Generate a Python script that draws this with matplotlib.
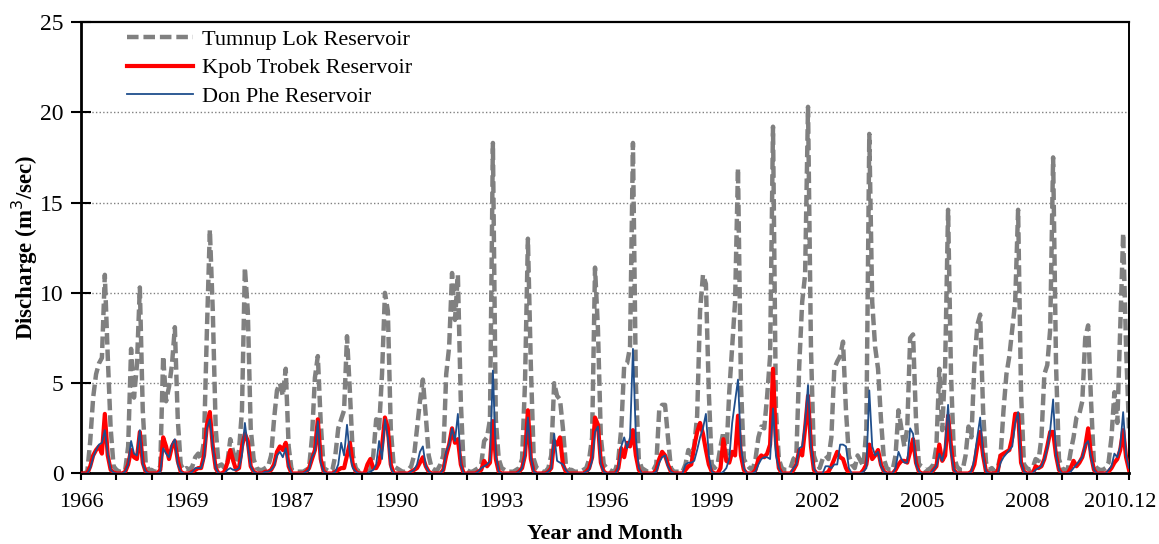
import matplotlib
matplotlib.use("Agg")
import matplotlib.pyplot as plt
from matplotlib.transforms import ScaledTranslation
import numpy as np

plt.rcParams['font.family'] = ['Liberation Serif', 'DejaVu Serif']

# monthly discharge (m3/sec), one row per year: 1966-1971, 1987-2010
tumnup_lok = [
    0.0, 0.0, 0.1, 1.8, 4.2, 5.5, 6.1, 6.4, 11.0, 6.5, 2.5, 0.4,     # 1966
    0.2, 0.1, 0.1, 0.2, 1.5, 6.9, 4.2, 6.0, 10.3, 3.5, 0.6, 0.2,     # 1967
    0.2, 0.1, 0.1, 0.4, 6.5, 4.0, 4.8, 6.0, 8.1, 3.0, 0.5, 0.2,      # 1968
    0.3, 0.2, 0.4, 0.9, 1.1, 0.8, 1.8, 8.0, 13.5, 9.0, 2.5, 0.4,     # 1969
    0.5, 0.3, 0.6, 1.9, 1.2, 0.6, 1.3, 3.5, 11.4, 9.0, 2.5, 0.8,     # 1970
    0.3, 0.2, 0.2, 0.3, 0.4, 1.0, 3.0, 4.6, 5.0, 4.3, 5.8, 1.5,      # 1971
    0.2, 0.1, 0.1, 0.1, 0.1, 0.2, 0.3, 2.0, 5.3, 6.5, 2.8, 0.3,      # 1987
    0.2, 0.1, 0.2, 1.0, 2.5, 3.0, 3.5, 7.6, 4.5, 1.0, 0.3, 0.1,      # 1988
    0.2, 0.1, 0.1, 0.2, 1.0, 3.0, 2.5, 5.5, 10.0, 9.0, 2.5, 0.4,     # 1989
    0.3, 0.2, 0.1, 0.1, 0.2, 0.4, 1.0, 2.5, 4.0, 5.2, 3.2, 1.0,      # 1990
    0.3, 0.2, 0.2, 0.5, 1.0, 5.5, 7.0, 11.1, 8.5, 11.0, 4.0, 0.3,    # 1991
    0.2, 0.1, 0.1, 0.2, 0.3, 0.5, 1.8, 2.0, 3.0, 18.3, 3.0, 0.8,     # 1992
    0.3, 0.2, 0.1, 0.1, 0.1, 0.2, 0.3, 0.8, 5.0, 13.0, 6.0, 0.8,     # 1993
    0.3, 0.2, 0.1, 0.1, 0.3, 1.0, 5.0, 4.3, 4.1, 2.5, 0.5, 0.2,      # 1994
    0.2, 0.1, 0.1, 0.1, 0.2, 0.3, 0.8, 2.0, 11.4, 8.0, 2.0, 0.5,     # 1995
    0.3, 0.2, 0.1, 0.2, 0.8, 2.5, 6.0, 6.1, 7.0, 18.3, 5.0, 0.8,     # 1996
    0.3, 0.2, 0.1, 0.1, 0.2, 0.5, 3.5, 3.8, 3.8, 2.0, 0.3, 0.1,      # 1997
    0.1, 0.1, 0.1, 0.5, 1.3, 1.0, 1.5, 3.2, 9.0, 11.0, 10.5, 4.5,    # 1998
    0.5, 0.3, 0.5, 1.5, 2.3, 1.0, 4.5, 7.0, 9.5, 16.9, 5.0, 0.8,     # 1999
    0.5, 0.3, 0.2, 0.8, 2.0, 2.6, 2.5, 4.3, 6.5, 19.2, 3.5, 0.8,     # 2000
    0.3, 0.2, 0.2, 0.3, 0.8, 1.0, 6.0, 9.5, 11.0, 20.3, 7.0, 1.0,    # 2001
    0.5, 0.3, 0.8, 1.0, 0.8, 2.0, 5.8, 6.2, 6.5, 7.3, 3.5, 1.0,      # 2002
    0.5, 0.3, 1.0, 0.7, 0.4, 2.5, 18.8, 9.5, 7.0, 5.8, 3.0, 0.8,     # 2003
    0.3, 0.2, 0.2, 1.0, 3.5, 2.5, 1.5, 2.5, 7.5, 7.7, 3.0, 0.5,      # 2004
    0.4, 0.2, 0.2, 0.3, 0.5, 1.5, 5.8, 2.4, 6.0, 14.6, 5.5, 1.0,     # 2005
    0.4, 0.2, 0.2, 1.0, 2.6, 2.0, 6.0, 8.2, 8.8, 3.5, 0.6, 0.2,      # 2006
    0.3, 0.1, 0.3, 1.0, 3.5, 5.5, 6.5, 8.0, 9.5, 14.6, 4.5, 0.5,     # 2007
    0.3, 0.2, 0.3, 0.8, 0.7, 2.0, 5.5, 6.0, 8.0, 17.5, 6.0, 0.8,     # 2008
    0.3, 0.2, 0.2, 1.2, 2.0, 3.1, 3.3, 4.0, 7.5, 8.2, 4.0, 0.5,      # 2009
    0.3, 0.2, 0.2, 0.3, 0.6, 2.0, 4.5, 2.8, 8.0, 13.3, 7.0, 2.5,     # 2010
]

kpob_trobek = [
    0.0, 0.0, 0.0, 0.4, 1.0, 1.3, 1.5, 1.1, 3.3, 1.0, 0.2, 0.05,
    0.0, 0.0, 0.0, 0.1, 0.5, 1.3, 0.9, 0.8, 2.3, 0.6, 0.1, 0.0,
    0.0, 0.0, 0.0, 0.2, 2.0, 1.5, 0.8, 1.5, 1.8, 0.7, 0.1, 0.0,
    0.0, 0.0, 0.1, 0.2, 0.3, 0.3, 1.0, 2.7, 3.4, 1.5, 0.3, 0.0,
    0.0, 0.1, 0.6, 1.3, 0.7, 0.2, 0.3, 1.5, 2.2, 1.8, 0.4, 0.1,
    0.0, 0.0, 0.0, 0.1, 0.1, 0.2, 0.5, 1.2, 1.5, 1.3, 1.7, 0.4,
    0.0, 0.0, 0.0, 0.0, 0.0, 0.1, 0.3, 0.8, 1.3, 3.0, 0.8, 0.1,
    0.0, 0.0, 0.0, 0.1, 0.2, 0.3, 0.3, 1.0, 1.7, 0.5, 0.1, 0.0,
    0.0, 0.0, 0.5, 0.8, 0.3, 0.3, 0.6, 1.5, 3.1, 2.5, 0.5, 0.0,
    0.0, 0.0, 0.0, 0.0, 0.0, 0.1, 0.2, 0.3, 0.6, 0.9, 0.4, 0.1,
    0.0, 0.0, 0.0, 0.0, 0.2, 1.0, 1.6, 2.5, 1.7, 1.9, 0.5, 0.0,
    0.0, 0.0, 0.0, 0.0, 0.1, 0.2, 0.7, 0.4, 0.6, 2.9, 0.8, 0.1,
    0.0, 0.0, 0.0, 0.0, 0.0, 0.0, 0.1, 0.3, 1.0, 3.5, 0.8, 0.1,
    0.0, 0.0, 0.0, 0.0, 0.1, 0.3, 1.8, 1.6, 2.0, 0.5, 0.1, 0.0,
    0.0, 0.0, 0.0, 0.0, 0.0, 0.1, 0.3, 0.9, 3.1, 2.7, 0.6, 0.1,
    0.0, 0.0, 0.0, 0.0, 0.3, 1.4, 0.9, 1.7, 1.5, 2.4, 1.0, 0.2,
    0.0, 0.0, 0.0, 0.0, 0.0, 0.2, 0.8, 1.2, 1.0, 0.5, 0.1, 0.0,
    0.0, 0.0, 0.0, 0.2, 0.4, 0.5, 1.5, 2.3, 2.8, 2.2, 1.3, 0.5,
    0.1, 0.0, 0.0, 0.3, 1.9, 0.7, 0.6, 1.2, 1.0, 3.2, 1.0, 0.2,
    0.0, 0.0, 0.0, 0.2, 0.8, 1.0, 0.9, 1.1, 1.6, 5.8, 1.8, 0.3,
    0.0, 0.0, 0.0, 0.0, 0.2, 0.5, 1.3, 1.0, 2.5, 4.3, 1.5, 0.2,
    0.0, 0.0, 0.0, 0.0, 0.1, 0.4, 0.8, 1.2, 0.9, 0.8, 0.3, 0.0,
    0.0, 0.0, 0.0, 0.0, 0.2, 0.5, 1.6, 0.8, 1.0, 1.3, 0.5, 0.1,
    0.0, 0.0, 0.0, 0.2, 0.5, 0.7, 0.7, 0.6, 1.2, 1.9, 0.6, 0.1,
    0.0, 0.0, 0.0, 0.0, 0.2, 0.4, 1.6, 0.7, 1.0, 3.2, 1.5, 0.2,
    0.0, 0.0, 0.0, 0.0, 0.0, 0.1, 0.5, 1.5, 2.3, 1.0, 0.1, 0.0,
    0.0, 0.0, 0.1, 1.0, 1.1, 1.2, 1.3, 2.0, 3.3, 3.3, 0.6, 0.1,
    0.0, 0.0, 0.0, 0.4, 0.3, 0.4, 0.8, 1.5, 2.3, 2.3, 1.0, 0.2,
    0.0, 0.0, 0.0, 0.3, 0.7, 0.4, 0.6, 0.9, 1.5, 2.5, 1.0, 0.2,
    0.0, 0.0, 0.0, 0.0, 0.1, 0.3, 0.6, 0.8, 1.3, 2.4, 0.9, 0.2,
]

don_phe = [
    0.0, 0.0, 0.0, 0.3, 0.9, 1.3, 1.6, 1.7, 2.4, 1.1, 0.2, 0.05,
    0.0, 0.0, 0.0, 0.1, 0.5, 1.8, 1.1, 1.0, 2.4, 0.5, 0.1, 0.0,
    0.0, 0.0, 0.0, 0.1, 1.4, 1.1, 0.9, 1.6, 1.9, 0.5, 0.1, 0.0,
    0.0, 0.0, 0.1, 0.3, 0.3, 0.3, 0.8, 2.5, 3.0, 1.5, 0.3, 0.0,
    0.0, 0.0, 0.2, 0.3, 0.2, 0.2, 0.3, 1.0, 2.8, 1.5, 0.4, 0.1,
    0.0, 0.0, 0.0, 0.1, 0.1, 0.2, 0.4, 1.0, 1.2, 0.9, 1.4, 0.4,
    0.0, 0.0, 0.0, 0.0, 0.0, 0.1, 0.2, 0.9, 1.2, 2.9, 0.6, 0.1,
    0.0, 0.0, 0.0, 0.1, 0.5, 1.7, 1.0, 2.7, 1.0, 0.3, 0.1, 0.0,
    0.0, 0.0, 0.0, 0.1, 0.2, 0.5, 1.8, 0.8, 3.0, 2.0, 0.3, 0.0,
    0.0, 0.0, 0.0, 0.0, 0.0, 0.1, 0.2, 0.5, 1.2, 1.5, 0.4, 0.1,
    0.0, 0.0, 0.0, 0.0, 0.2, 1.2, 1.6, 2.5, 1.8, 3.3, 0.5, 0.0,
    0.0, 0.0, 0.0, 0.0, 0.1, 0.3, 0.4, 0.5, 0.7, 5.7, 1.0, 0.1,
    0.0, 0.0, 0.0, 0.0, 0.0, 0.0, 0.1, 0.3, 1.0, 3.1, 0.9, 0.1,
    0.0, 0.0, 0.0, 0.0, 0.1, 0.3, 2.2, 0.7, 0.6, 0.5, 0.2, 0.0,
    0.0, 0.0, 0.0, 0.0, 0.0, 0.1, 0.2, 0.7, 2.3, 2.6, 0.5, 0.1,
    0.0, 0.0, 0.0, 0.0, 0.3, 1.5, 2.0, 1.4, 2.0, 6.9, 2.0, 0.3,
    0.0, 0.0, 0.0, 0.0, 0.0, 0.1, 0.6, 0.9, 1.0, 0.4, 0.1, 0.0,
    0.0, 0.0, 0.0, 0.5, 0.6, 0.6, 0.7, 1.3, 2.0, 2.5, 3.3, 1.0,
    0.1, 0.0, 0.0, 0.0, 0.1, 0.3, 0.8, 2.8, 4.0, 5.2, 1.5, 0.3,
    0.0, 0.0, 0.0, 0.1, 0.5, 0.8, 0.9, 0.9, 0.8, 3.6, 1.0, 0.3,
    0.0, 0.0, 0.0, 0.0, 0.3, 0.5, 1.4, 1.5, 2.8, 4.9, 1.5, 0.3,
    0.0, 0.0, 0.0, 0.4, 0.4, 0.3, 0.5, 0.5, 1.6, 1.6, 1.5, 0.3,
    0.0, 0.0, 0.0, 0.0, 0.1, 0.3, 4.6, 1.5, 1.0, 1.2, 0.4, 0.1,
    0.0, 0.0, 0.0, 0.3, 1.2, 0.8, 0.6, 0.6, 2.5, 2.2, 0.5, 0.1,
    0.0, 0.0, 0.0, 0.0, 0.2, 0.4, 1.1, 0.7, 1.5, 3.8, 1.2, 0.2,
    0.0, 0.0, 0.0, 0.0, 0.0, 0.1, 0.8, 2.0, 3.1, 1.0, 0.1, 0.0,
    0.0, 0.0, 0.0, 0.6, 0.9, 1.1, 1.3, 1.5, 2.8, 3.4, 0.6, 0.1,
    0.0, 0.0, 0.0, 0.2, 0.3, 0.4, 0.8, 1.4, 2.4, 4.1, 1.0, 0.2,
    0.0, 0.0, 0.0, 0.1, 0.3, 0.5, 0.7, 0.9, 1.6, 1.8, 0.9, 0.2,
    0.0, 0.0, 0.0, 0.0, 0.2, 0.4, 1.1, 0.9, 1.5, 3.4, 1.0, 0.3,
]

tick_labels = ['1966', '1969', '1987', '1990', '1993', '1996', '1999',
               '2002', '2005', '2008', '2010.12']
labels = ['Tumnup Lok Reservoir', 'Kpob Trobek Reservoir', 'Don Phe Reservoir']

months = np.arange(len(tumnup_lok))

fig = plt.figure(figsize=(11.59, 5.44), dpi=100)
ax = fig.add_axes([0.0703, 0.1296, 0.9741 - 0.0703, 0.9597 - 0.1296])

ax.plot(months, tumnup_lok, color='#808080', lw=3.2, dashes=(2.6, 1.1),
        label=labels[0], zorder=2)
ax.plot(months, kpob_trobek, color='#ff0000', lw=3.0, label=labels[1],
        zorder=3, solid_joinstyle='round')
ax.plot(months, don_phe, color='#1f4e8c', lw=1.3, label=labels[2], zorder=4)

ax.set_xlim(0, len(months) - 1)
ax.set_ylim(0, 25)

ax.set_yticks([0, 5, 10, 15, 20, 25])
for v in [5, 10, 15, 20]:
    ax.axhline(v, color='#808080', lw=1.0, ls=(0, (1, 1.6)), zorder=1)

# a tick every year, a label every third year and on the last month
year_ticks = list(range(0, len(months), 12)) + [len(months) - 1]
ax.set_xticks(year_ticks)
xl = [''] * len(year_ticks)
for i, t in enumerate(tick_labels[:-1]):
    xl[3 * i] = t
xl[-1] = tick_labels[-1]
ax.set_xticklabels(xl)

ax.tick_params(axis='x', direction='out', length=5, width=1.5, pad=9,
               labelsize=16)
ax.tick_params(axis='y', direction='inout', length=14, width=1.5, pad=6,
               labelsize=17)
last = ax.get_xticklabels()[-1]
last.set_transform(last.get_transform() +
                   ScaledTranslation(-6 / 72, 0, fig.dpi_scale_trans))

for side in ['left', 'bottom']:
    ax.spines[side].set_linewidth(2.0)
ax.spines['top'].set_linewidth(1.6)
ax.spines['right'].set_linewidth(1.4)

ax.set_xlabel('Year and Month', fontsize=16, fontweight='bold')
ax.xaxis.set_label_coords(0.5, -0.111)
ax.set_ylabel('Discharge (m$^3$/sec)', fontsize=16.5, fontweight='bold')
ax.yaxis.set_label_coords(-0.040, 0.5)

leg = ax.legend(loc='upper left', bbox_to_anchor=(0.043, 0.983), frameon=False,
                fontsize=16, handlelength=3.0, handletextpad=0.4,
                labelspacing=0.35, borderpad=0, borderaxespad=0)

plt.savefig('out.png', dpi=100)
